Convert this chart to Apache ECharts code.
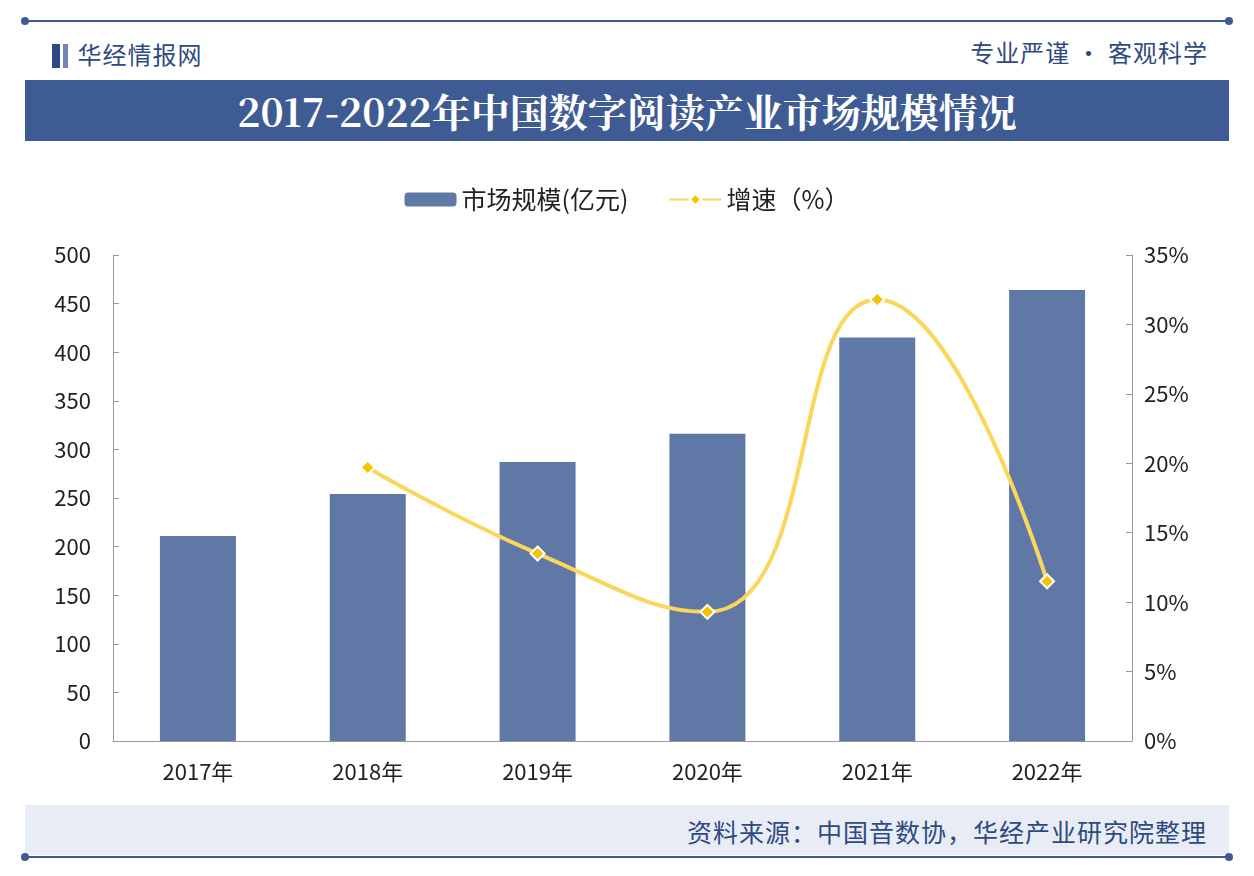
<!DOCTYPE html>
<html lang="zh-CN">
<head>
<meta charset="utf-8" />
<title>2017-2022年中国数字阅读产业市场规模情况</title>
<script src="https://cdn.jsdelivr.net/npm/echarts@6/dist/echarts.min.js"></script>
<style>
    body { margin:0; background:#fff; font-family:"Noto Sans CJK SC","Noto Sans",sans-serif; }
    #wrap { position:relative; width:1254px; height:876px; overflow:hidden; }
    .topline { position:absolute; left:25px; right:25px; top:20px; height:2px; background:#3d5a94; }
    .topline:before, .topline:after { content:""; position:absolute; top:-3px; width:8px; height:8px; border-radius:4px; background:#3d5a94; }
    .topline:before { left:-4px; } .topline:after { right:-4px; }
    .logo { position:absolute; left:52px; top:36px; font-size:24px; color:#2f4a80; letter-spacing:1px; }
    .logo i { display:inline-block; width:8px; height:24px; background:#2f4a80; margin-right:3px; vertical-align:-4px; }
    .slogan { position:absolute; right:46px; top:34px; font-size:24px; color:#2f4a80; letter-spacing:1px; }
    .title { position:absolute; left:25px; right:25px; top:80px; height:61px; background:#3f5b93; color:#fff;
             font-size:39px; font-weight:bold; text-align:center; line-height:61px; font-family:"Noto Serif CJK SC","Noto Sans CJK SC",serif; }
    .foot { position:absolute; left:25px; right:25px; top:805px; height:50px; background:#e8edf5; }
    .foot span { position:absolute; right:22px; top:8px; font-size:25px; color:#2f4a80; letter-spacing:1px; }
    .botline { position:absolute; left:25px; right:25px; top:856px; height:2px; background:#3d5a94; }
    .botline:before, .botline:after { content:""; position:absolute; top:-3px; width:8px; height:8px; border-radius:4px; background:#3d5a94; }
    .botline:before { left:-4px; } .botline:after { right:-4px; }
    #main { position:absolute; left:0; top:150px; width:1254px; height:650px; }
</style>
</head>
<body>
<div id="wrap">
    <div class="topline"></div>
    <div class="logo"><i></i><i style="width:5px;background:#6d86b5"></i> 华经情报网</div>
    <div class="slogan">专业严谨 • 客观科学</div>
    <div class="title">2017-2022年中国数字阅读产业市场规模情况</div>
    <div id="main"></div>
    <div class="foot"><span>资料来源：中国音数协，华经产业研究院整理</span></div>
    <div class="botline"></div>
</div>
<script type="text/javascript">
    // 数据
    var years = ['2017年', '2018年', '2019年', '2020年', '2021年', '2022年'];
    var scale = [211, 254, 287, 316, 415, 464];        // 市场规模(亿元)
    var growth = [null, 19.7, 13.5, 9.3, 31.8, 11.5];  // 增速（%）

    var myChart = echarts.init(document.getElementById('main'));
    myChart.setOption({
        textStyle: { fontFamily: 'Noto Sans CJK SC' },
        legend: {
            top: 32, itemGap: 40, itemWidth: 52, itemHeight: 14,
            textStyle: { fontSize: 25, color: '#222' },
            data: ['市场规模(亿元)', '增速（%）']
        },
        grid: { left: 113, right: 122, top: 105, bottom: 59 },
        xAxis: {
            type: 'category', data: years,
            axisLine: { lineStyle: { color: '#999' } },
            axisTick: { show: false },
            axisLabel: { fontSize: 22, color: '#222', margin: 20 }
        },
        yAxis: [{
            type: 'value', min: 0, max: 500, interval: 50,
            splitLine: { show: false },
            axisLine: { show: true, lineStyle: { color: '#999' } },
            axisTick: { show: true, inside: true, length: 6 },
            axisLabel: { fontSize: 22, color: '#222', margin: 22 }
        }, {
            type: 'value', min: 0, max: 35, interval: 5,
            splitLine: { show: false },
            axisLine: { show: true, lineStyle: { color: '#999' } },
            axisTick: { show: true, inside: true, length: 6 },
            axisLabel: { fontSize: 22, color: '#222', formatter: '{value}%', margin: 12 }
        }],
        series: [{
            name: '市场规模(亿元)', type: 'bar', data: scale, barWidth: 76,
            itemStyle: { color: '#5f78a6' }
        }, {
            name: '增速（%）', type: 'line', yAxisIndex: 1, data: growth, smooth: 0.5,
            symbol: 'diamond', symbolSize: 14,
            lineStyle: { color: '#fbd65a', width: 4 },
            itemStyle: { color: '#f5c400', borderColor: '#fff', borderWidth: 2 }
        }]
    });
</script>
</body>
</html>
